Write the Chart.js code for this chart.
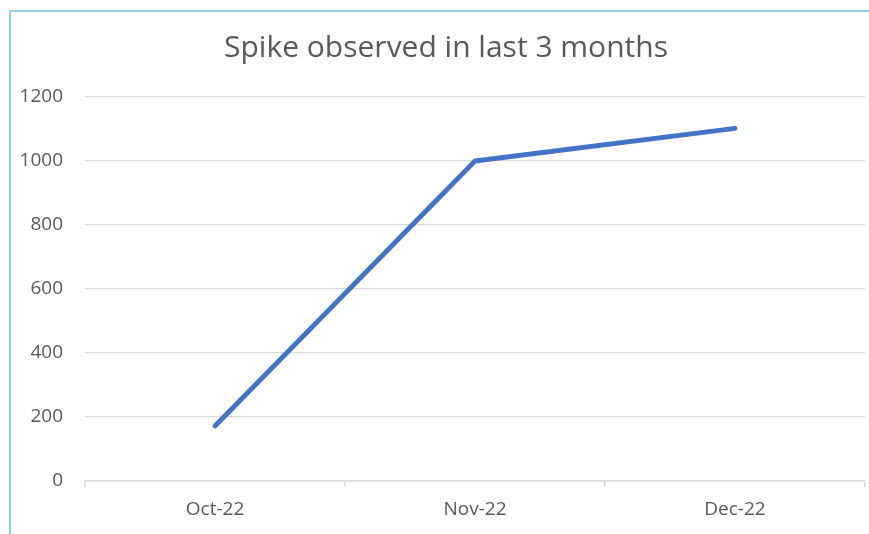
<!DOCTYPE html>
<html>
<head>
<meta charset="utf-8">
<script src="https://cdn.jsdelivr.net/npm/chart.js@4"></script>
<style>
  html, body { margin: 0; padding: 0; background: #ffffff; }
  #wrap { position: relative; width: 869px; height: 534px; overflow: hidden; }
  #frame { position: absolute; left: 9px; top: 10px; width: 900px; height: 600px;
           border-top: 2px solid #8fd3ea; border-left: 2px solid #8fd3ea; box-sizing: border-box; }
  canvas { position: absolute; left: 0; top: 0; }
</style>
</head>
<body>
<div id="wrap">
  <div id="frame"></div>
  <canvas id="c" width="869" height="534"></canvas>
</div>
<script>
const categories = ["Oct-22", "Nov-22", "Dec-22"];
const values = [172, 1000, 1102];
const yTicks = [0, 200, 400, 600, 800, 1000, 1200];
const titleText = "Spike observed in last 3 months";

const textColor = "#595959";
const fontFamily = "'Open Sans', sans-serif";

const shiftTitle = {
  id: "shiftTitle",
  afterLayout(chart) {
    if (chart.titleBlock) { chart.titleBlock.left += 27; }
  }
};

new Chart(document.getElementById("c"), {
  type: "line",
  data: {
    labels: categories,
    datasets: [{
      data: values,
      borderColor: "#4472C4",
      borderWidth: 4.8,
      pointRadius: 0,
      tension: 0,
      borderCapStyle: "round",
      borderJoinStyle: "round"
    }]
  },
  plugins: [shiftTitle],
  options: {
    responsive: false,
    animation: false,
    layout: { padding: { left: 0, right: 4, top: 0, bottom: 0 } },
    plugins: {
      legend: { display: false },
      tooltip: { enabled: false },
      title: {
        display: true,
        text: titleText,
        color: textColor,
        font: { family: fontFamily, size: 30, weight: "normal", lineHeight: 1.2 },
        padding: { top: 30, bottom: 31 }
      }
    },
    scales: {
      x: {
        offset: true,
        grid: { display: true, offset: true, drawOnChartArea: false, drawTicks: true, tickLength: 6, color: "#d9d9d9", lineWidth: 1.5 },
        border: { display: true, color: "#d9d9d9", width: 1.5 },
        ticks: { color: textColor, font: { family: fontFamily, size: 19 }, padding: 11, maxRotation: 0 },
        afterFit: (s) => { s.height = 53; }
      },
      y: {
        min: 0,
        max: 1200,
        afterBuildTicks: (s) => { s.ticks = yTicks.map(v => ({ value: v })); },
        grid: { color: "#d9d9d9", lineWidth: 1.3, drawTicks: false },
        border: { display: false },
        ticks: { color: textColor, font: { family: fontFamily, size: 19 }, padding: 22, callback: (v) => String(v) },
        afterFit: (s) => { s.width = 85; }
      }
    }
  }
});
</script>
</body>
</html>
